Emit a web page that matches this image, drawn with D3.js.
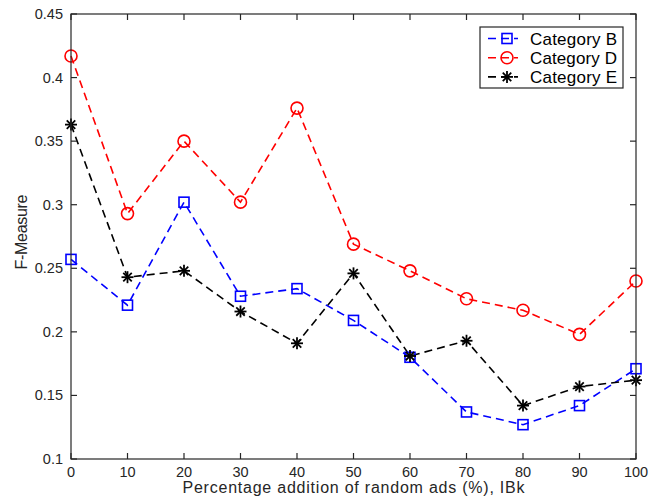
<!DOCTYPE html>
<html><head><meta charset="utf-8">
<script src="https://cdn.jsdelivr.net/npm/d3@7"></script>
<style>body{margin:0;background:#fff}svg{display:block}text{font-family:"Liberation Sans",Arial,sans-serif}</style>
</head><body><svg id="c" width="657" height="501"></svg>
<script>
const xValues = [0,10,20,30,40,50,60,70,80,90,100];
const categoryB = [0.257,0.221,0.302,0.228,0.234,0.209,0.180,0.137,0.127,0.142,0.171];
const categoryD = [0.417,0.293,0.350,0.302,0.376,0.269,0.248,0.226,0.217,0.198,0.240];
const categoryE = [0.363,0.243,0.248,0.216,0.191,0.246,0.181,0.193,0.142,0.157,0.162];
const seriesNames = ["Category B","Category D","Category E"];
const xTicks = [0,10,20,30,40,50,60,70,80,90,100];
const yTicks = [0.1,0.15,0.2,0.25,0.3,0.35,0.4,0.45];

const svg = d3.select("#c");
const L=71,R=636,T=14,B=459;
const x = d3.scaleLinear().domain([0,100]).range([L,R]);
const y = d3.scaleLinear().domain([0.1,0.45]).range([B,T]);
const axCol="#262626";

const series=[
 {name:seriesNames[0],vals:categoryB,color:"#0000ff",marker:"square"},
 {name:seriesNames[1],vals:categoryD,color:"#ff0000",marker:"circle"},
 {name:seriesNames[2],vals:categoryE,color:"#000000",marker:"star"}
];

function drawMarker(g,type,cx,cy,color){
  if(type==="square"){
    g.append("rect").attr("x",cx-5).attr("y",cy-5).attr("width",10).attr("height",10)
      .attr("fill","none").attr("stroke",color).attr("stroke-width",1.6);
  } else if(type==="circle"){
    g.append("circle").attr("cx",cx).attr("cy",cy).attr("r",6)
      .attr("fill","none").attr("stroke",color).attr("stroke-width",1.6);
  } else {
    const r=6;
    for(let a=0;a<4;a++){
      const ang=a*Math.PI/4;
      g.append("line").attr("x1",cx-r*Math.cos(ang)).attr("y1",cy-r*Math.sin(ang))
        .attr("x2",cx+r*Math.cos(ang)).attr("y2",cy+r*Math.sin(ang))
        .attr("stroke",color).attr("stroke-width",1.8);
    }
  }
}

const line=d3.line().x((d,i)=>x(xValues[i])).y(d=>y(d));
const plot=svg.append("g");
series.forEach(s=>{
  plot.append("path").attr("d",line(s.vals)).attr("fill","none")
    .attr("stroke",s.color).attr("stroke-width",1.6).attr("stroke-dasharray","8,5");
});
series.forEach(s=>{
  s.vals.forEach((v,i)=>drawMarker(plot,s.marker,x(xValues[i]),y(v),s.color));
});

// axes box
const axes=svg.append("g");
axes.append("rect").attr("x",L).attr("y",T).attr("width",R-L).attr("height",B-T)
  .attr("fill","none").attr("stroke",axCol).attr("stroke-width",1.2);
const tl=6;
xTicks.forEach(t=>{
  axes.append("line").attr("x1",x(t)).attr("x2",x(t)).attr("y1",B).attr("y2",B-tl).attr("stroke",axCol).attr("stroke-width",1.2);
  axes.append("line").attr("x1",x(t)).attr("x2",x(t)).attr("y1",T).attr("y2",T+tl).attr("stroke",axCol).attr("stroke-width",1.2);
  axes.append("text").attr("x",x(t)).attr("y",B+18).attr("text-anchor","middle")
    .attr("font-size",14.5).attr("fill",axCol).text(t);
});
yTicks.forEach(t=>{
  axes.append("line").attr("x1",L).attr("x2",L+tl).attr("y1",y(t)).attr("y2",y(t)).attr("stroke",axCol).attr("stroke-width",1.2);
  axes.append("line").attr("x1",R).attr("x2",R-tl).attr("y1",y(t)).attr("y2",y(t)).attr("stroke",axCol).attr("stroke-width",1.2);
  axes.append("text").attr("x",L-8).attr("y",y(t)+5).attr("text-anchor","end")
    .attr("font-size",14.5).attr("fill",axCol).text(String(t));
});
axes.append("text").attr("x",(L+R)/2).attr("y",493).attr("text-anchor","middle")
  .attr("font-size",16).attr("fill",axCol)
  .attr("textLength",342).attr("lengthAdjust","spacing")
  .text("Percentage addition of random ads (%), IBk");
axes.append("text").attr("transform",`translate(27,232) rotate(-90)`).attr("text-anchor","middle")
  .attr("font-size",16).attr("fill",axCol)
  .attr("textLength",75).attr("lengthAdjust","spacing")
  .text("F-Measure");

// legend
const lg=svg.append("g");
lg.append("rect").attr("x",480).attr("y",27).attr("width",143).attr("height",61)
  .attr("fill","#fff").attr("stroke",axCol).attr("stroke-width",1.2);
series.forEach((s,i)=>{
  const ly=38.5+i*19.2;
  lg.append("line").attr("x1",488).attr("x2",518).attr("y1",ly).attr("y2",ly)
    .attr("stroke",s.color).attr("stroke-width",1.6).attr("stroke-dasharray","8,5");
  drawMarker(lg,s.marker,507,ly,s.color);
  lg.append("text").attr("x",530).attr("y",ly+6).attr("font-size",17).attr("fill","#000")
    .attr("textLength",87).attr("lengthAdjust","spacing").text(s.name);
});
</script></body></html>
